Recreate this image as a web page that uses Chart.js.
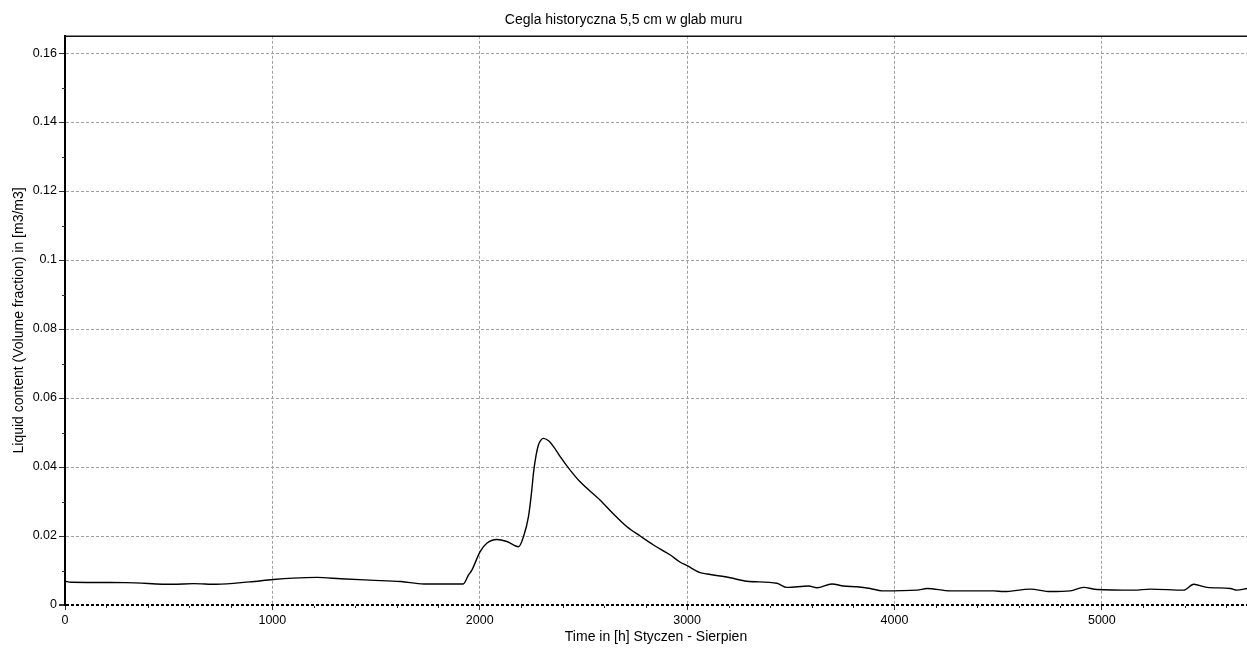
<!DOCTYPE html>
<html>
<head>
<meta charset="utf-8">
<script src="https://cdn.jsdelivr.net/npm/chart.js@4.4.1/dist/chart.umd.min.js"></script>
<style>
  html, body { margin: 0; padding: 0; background: #fff; }
  #wrap { width: 1247px; height: 648px; position: relative; }
</style>
</head>
<body>
<div id="wrap"><canvas id="c"></canvas></div>
<script>
// ---- data ----
const chartTitle = 'Cegla historyczna 5,5 cm w glab muru';
const xTitle = 'Time in [h] Styczen - Sierpien';
const yTitle = 'Liquid content (Volume fraction) in [m3/m3]';

const times = [0, 30, 290, 520, 620, 730, 890, 1005, 1100, 1215,
  1330, 1470, 1620, 1730, 1920, 1946, 1962, 2002, 2034, 2082,
  2131, 2187, 2211, 2235, 2251, 2259, 2272, 2283, 2295, 2307,
  2332, 2356, 2388, 2436, 2484, 2581, 2645, 2710, 2774, 2838,
  2919, 2967, 3000, 3063, 3096, 3208, 3288, 3433, 3481, 3586,
  3626, 3698, 3754, 3819, 3883, 3940, 4109, 4157, 4269, 4478,
  4527, 4655, 4752, 4848, 4912, 4977, 5154, 5234, 5395, 5443,
  5507, 5620, 5652, 5700];

const liquidContent = [0.0069, 0.0066, 0.0065, 0.0060, 0.0062, 0.0060, 0.0067, 0.0074, 0.0078, 0.0080,
  0.0076, 0.0072, 0.0068, 0.0061, 0.0061, 0.0087, 0.0101, 0.0155, 0.0179, 0.0190,
  0.0184, 0.0169, 0.0198, 0.0256, 0.0333, 0.0382, 0.0435, 0.0464, 0.0478, 0.0483,
  0.0476, 0.0459, 0.0430, 0.0391, 0.0357, 0.0304, 0.0264, 0.0227, 0.0200, 0.0174,
  0.0145, 0.0124, 0.0114, 0.0094, 0.0090, 0.0079, 0.0069, 0.0063, 0.0051, 0.0055,
  0.0050, 0.0061, 0.0055, 0.0053, 0.0048, 0.0041, 0.0043, 0.0048, 0.0041, 0.0041,
  0.0039, 0.0046, 0.0039, 0.0041, 0.0051, 0.0045, 0.0043, 0.0046, 0.0043, 0.0060,
  0.0051, 0.0048, 0.0043, 0.0048];

const xTicks = [0, 1000, 2000, 3000, 4000, 5000];
const xMinorTicks = [200, 400, 600, 800, 1200, 1400, 1600, 1800, 2200, 2400, 2600, 2800,
  3200, 3400, 3600, 3800, 4200, 4400, 4600, 4800, 5200, 5400, 5600];
const yTicks = [0, 0.02, 0.04, 0.06, 0.08, 0.1, 0.12, 0.14, 0.16];
const yMinorTicks = [0.01, 0.03, 0.05, 0.07, 0.09, 0.11, 0.13, 0.15];
const xMin = 0, xMax = 5700, yMin = 0, yMax = 0.165;

// ---- chart ----
const FONT = '"Liberation Sans", Arial, sans-serif';
Chart.defaults.font.family = FONT;
Chart.defaults.color = '#000';

const frame = {
  id: 'frame',
  afterDraw(chart) {
    const {ctx, chartArea: a, scales} = chart;
    ctx.save();
    // top frame line
    ctx.strokeStyle = '#111';
    ctx.lineWidth = 1.5;
    ctx.beginPath();
    ctx.moveTo(a.left, a.top + 0.5);
    ctx.lineTo(a.right, a.top + 0.5);
    ctx.stroke();
    // minor ticks
    ctx.strokeStyle = '#333';
    ctx.lineWidth = 1;
    ctx.beginPath();
    xMinorTicks.forEach(v => {
      const px = Math.round(scales.x.getPixelForValue(v)) + 0.5;
      ctx.moveTo(px, a.bottom + 1);
      ctx.lineTo(px, a.bottom + 3);
    });
    yMinorTicks.forEach(v => {
      const py = Math.round(scales.y.getPixelForValue(v)) + 0.5;
      ctx.moveTo(a.left - 3, py);
      ctx.lineTo(a.left, py);
    });
    ctx.stroke();
    ctx.restore();
  }
};

new Chart(document.getElementById('c'), {
  type: 'line',
  data: {
    datasets: [{
      data: times.map((t, i) => ({x: t, y: liquidContent[i]})),
      borderColor: '#000',
      borderWidth: 1.4,
      pointRadius: 0,
      fill: false,
      cubicInterpolationMode: 'monotone',
      tension: 0.3
    }]
  },
  options: {
    responsive: true,
    maintainAspectRatio: false,
    animation: false,
    layout: { padding: 0 },
    plugins: {
      legend: { display: false },
      tooltip: { enabled: false },
      title: {
        display: true,
        text: chartTitle,
        color: '#000',
        font: { size: 14, weight: 'normal', family: FONT },
        padding: { top: 12, bottom: 7 }
      }
    },
    scales: {
      x: {
        type: 'linear',
        min: xMin, max: xMax,
        afterBuildTicks: s => { s.ticks = xTicks.map(v => ({value: v})); },
        afterFit: s => { s.height = 43; },
        ticks: {
          font: { size: 12.5 },
          color: '#000',
          padding: 3,
          maxRotation: 0,
          callback: v => String(v)
        },
        grid: {
          color: c => (c.tick && c.tick.value === 0) ? 'rgba(0,0,0,0)' : '#a0a0a0',
          tickColor: '#333',
          tickLength: 5,
          lineWidth: 1
        },
        border: { display: false, dash: [3, 2] },
        title: {
          display: true,
          text: xTitle,
          color: '#000',
          font: { size: 14, family: FONT },
          padding: { top: 0, bottom: 2 }
        }
      },
      y: {
        type: 'linear',
        min: yMin, max: yMax,
        afterBuildTicks: s => { s.ticks = yTicks.map(v => ({value: v})); },
        afterFit: s => { s.width = 65; },
        ticks: {
          font: { size: 12.5 },
          color: '#000',
          padding: 2,
          callback: v => String(+Number(v).toFixed(2))
        },
        grid: {
          color: c => (c.tick && c.tick.value === 0) ? '#000' : '#a0a0a0',
          lineWidth: c => (c.tick && c.tick.value === 0) ? 2 : 1,
          tickColor: '#333',
          tickLength: 6
        },
        border: { display: true, color: '#000', width: 2, dash: [3, 2] },
        title: {
          display: true,
          text: yTitle,
          color: '#000',
          font: { size: 14, family: FONT },
          padding: { top: 11, bottom: 0 }
        }
      }
    }
  },
  plugins: [frame]
});
</script>
</body>
</html>
